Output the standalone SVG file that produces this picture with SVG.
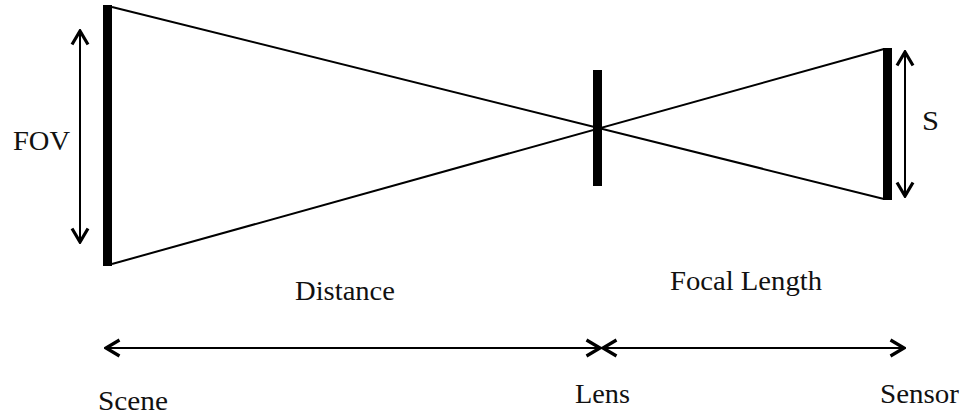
<svg xmlns="http://www.w3.org/2000/svg" width="962" height="415" viewBox="0 0 962 415">
<style>
.bar{fill:#000}
.ray{stroke:#000;stroke-width:2;fill:none}
.dim{stroke:#000;stroke-width:2;fill:none;marker-start:url(#chev);marker-end:url(#chev)}
text{font-family:"Liberation Serif","Times New Roman",serif;font-size:27px;fill:#111}
</style>
<defs>
<marker id="chev" viewBox="0 0 18 20" refX="16" refY="10" markerWidth="18" markerHeight="20" markerUnits="userSpaceOnUse" orient="auto-start-reverse">
<path d="M2.5,2 L16,10 L2.5,18" fill="none" stroke="#000" stroke-width="3.2"/>
</marker>
</defs>
<rect width="962" height="415" fill="#fff"/>
<g id="connectors">
<line class="ray" x1="112" y1="7" x2="884" y2="199"/>
<line class="ray" x1="112" y1="264" x2="884" y2="49"/>
<line class="dim" x1="80" y1="31" x2="80" y2="242"/>
<line class="dim" x1="905" y1="52" x2="905" y2="196"/>
<line class="dim" x1="106" y1="348" x2="600" y2="348"/>
<line class="dim" x1="603" y1="348" x2="904" y2="348"/>
</g>
<g id="scene">
<rect class="bar" x="103" y="5" width="9" height="261"/>
<text x="98" y="410" textLength="70" lengthAdjust="spacingAndGlyphs">Scene</text>
</g>
<g id="lens">
<rect class="bar" x="593" y="70" width="9" height="116"/>
<text x="575" y="403" textLength="55" lengthAdjust="spacingAndGlyphs">Lens</text>
</g>
<g id="sensor">
<rect class="bar" x="883" y="48" width="9" height="152"/>
<text x="880" y="403" textLength="79" lengthAdjust="spacingAndGlyphs">Sensor</text>
</g>
<g id="labels">
<text x="13" y="150" textLength="57" lengthAdjust="spacingAndGlyphs">FOV</text>
<text x="922" y="130" textLength="17" lengthAdjust="spacingAndGlyphs">S</text>
<text x="295" y="300" textLength="100" lengthAdjust="spacingAndGlyphs">Distance</text>
<text x="670" y="290" textLength="152" lengthAdjust="spacingAndGlyphs">Focal Length</text>
</g>
</svg>
